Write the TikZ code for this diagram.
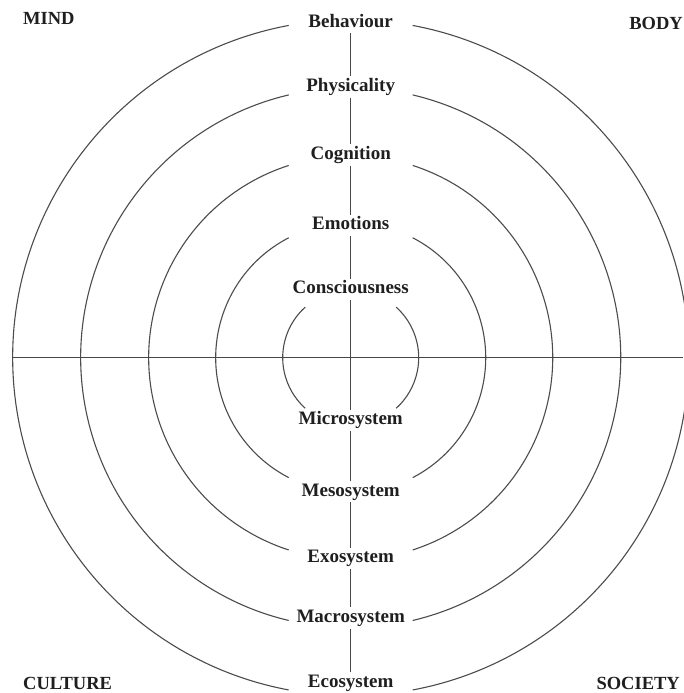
\documentclass[tikz,border=0pt]{standalone}
\usepackage{fontspec}
\setmainfont{Liberation Serif}
\begin{document}
\begin{tikzpicture}[x=1pt,y=1pt,
  lbl/.style={font=\fontsize{19}{21}\selectfont\bfseries, text=black!88,
    text height=13pt, text depth=4pt, inner sep=2pt, anchor=base},
  corner/.style={font=\fontsize{18.5}{20}\selectfont\bfseries, text=black!88, inner sep=0pt},
  ring/.style={draw=black!70, line width=1.1pt},
  axis/.style={draw=black!72, line width=1.2pt}]
\useasboundingbox (0,0) rectangle (683,693);
\fill[white] (0,0) rectangle (683,693);
\coordinate (C) at (350.7,335.3);
\coordinate (L) at (12.4,335.3);
\coordinate (R) at (683,335.3);
% rings with gaps at top and bottom
\foreach \r/\a in {338/10.57, 270/13.27, 202/17.87, 135/27.34, 68/42} {
  \draw[ring] (C) ++(90-\a:\r) arc[start angle=90-\a, end angle=-90+\a, radius=\r];
  \draw[ring] (C) ++(90+\a:\r) arc[start angle=90+\a, end angle=270-\a, radius=\r];
}
% horizontal axis
\draw[axis] (L) -- (R);
% labels
\node[lbl] (beh) at (350.7,665.8) {Behaviour};
\node[lbl] (phy) at (350.7,601.5) {Physicality};
\node[lbl] (cog) at (350.7,533.5) {Cognition};
\node[lbl] (emo) at (350.7,463.2) {Emotions};
\node[lbl] (con) at (350.7,399.2) {Consciousness};
\node[lbl] (mic) at (350.7,268.2) {Microsystem};
\node[lbl] (mes) at (350.7,196.8) {Mesosystem};
\node[lbl] (exo) at (350.7,130.2) {Exosystem};
\node[lbl] (mac) at (350.7,70.5) {Macrosystem};
\node[lbl] (eco) at (350.7,5.8) {Ecosystem};
% vertical axis segments
\draw[axis] (beh) -- (phy);
\draw[axis] (phy) -- (cog);
\draw[axis] (cog) -- (emo);
\draw[axis] (emo) -- (con);
\draw[axis] (con) -- (mic);
\draw[axis] (mic) -- (mes);
\draw[axis] (mes) -- (exo);
\draw[axis] (exo) -- (mac);
\draw[axis] (mac) -- (eco);
% corner labels
\node[corner, anchor=base west] (mind) at (23,668) {MIND};
\node[corner, anchor=base east] (body) at (683,663) {BODY};
\node[corner, anchor=base west] (cult) at (23,3) {CULTURE};
\node[corner, anchor=base east] (soc) at (680,3) {SOCIETY};
\end{tikzpicture}
\end{document}
